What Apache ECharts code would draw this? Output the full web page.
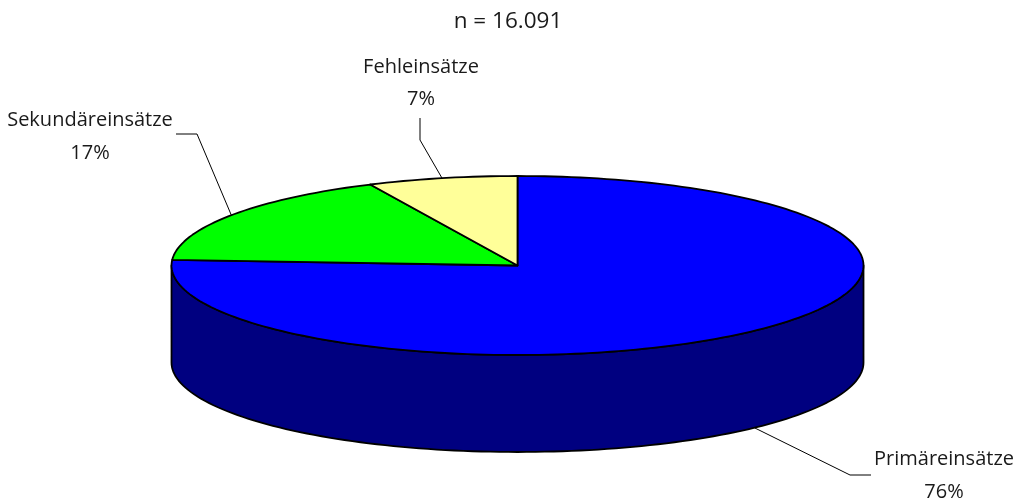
<!DOCTYPE html>
<html>
<head>
<meta charset="utf-8">
<style>html,body{margin:0;padding:0;background:#fff}#c{width:1015px;height:504px}</style>
<script src="https://cdn.jsdelivr.net/npm/echarts@6/dist/echarts.min.js"></script>
</head>
<body>
<div id="c"></div>
<script>
const categories = ['Primäreinsätze', 'Sekundäreinsätze', 'Fehleinsätze'];
const percentages = [76, 17, 7];
const subtitleText = 'n = 16.091';

const topColors = ['#0000ff', '#00ff00', '#ffff99'];
const wallColors = ['#000080', '#008000', '#808040'];
const elbows = [[850, 475, 871, 475], [197, 134, 176, 134], [420, 140, 420, 118]];
const labelPos = [[944, 459, 492], [90, 120, 153], [421, 67, 99]];
const CX = 517.5, CY = 265.5, RX = 346, RY = 89.5, DEPTH = 97;
const FONT = '20px "Open Sans", "Noto Sans", sans-serif';

const total = percentages.reduce((a, b) => a + b, 0);
function range(i) {
  let s = 0;
  for (let k = 0; k < i; k++) s += percentages[k];
  return [s / total * 360, (s + percentages[i]) / total * 360];
}
function pt(deg, dy) {
  const t = deg * Math.PI / 180;
  return [CX + RX * Math.sin(t), CY - RY * Math.cos(t) + (dy || 0)];
}
function arc(a, b) {
  const pts = [], n = Math.max(2, Math.ceil(Math.abs(b - a) / 1.5));
  for (let i = 0; i <= n; i++) pts.push(a + (b - a) * i / n);
  return pts;
}
const edge = { stroke: '#000', lineWidth: 1.8, lineJoin: 'round' };

const option = {
  animation: false,
  backgroundColor: '#fff',
  title: {
    text: subtitleText, left: 503, top: 5, textAlign: 'center',
    textStyle: { fontFamily: '"Open Sans", "Noto Sans", sans-serif', fontSize: 22.5, fontWeight: 'normal', color: '#1a1a1a' }
  },
  series: [
    {
      type: 'custom', coordinateSystem: 'none', z: 1, silent: true,
      data: percentages,
      renderItem(params) {
        const [a, b] = range(params.dataIndex);
        const lo = Math.max(a, 90), hi = Math.min(b, 270);
        if (hi <= lo) return { type: 'group', children: [] };
        const angles = arc(lo, hi);
        const pts = angles.map(d => pt(d, 0)).concat(angles.slice().reverse().map(d => pt(d, DEPTH)));
        return {
          type: 'polygon', shape: { points: pts },
          style: Object.assign({ fill: wallColors[params.dataIndex] }, edge)
        };
      }
    },
    {
      type: 'custom', coordinateSystem: 'none', z: 2, silent: true,
      data: percentages,
      renderItem(params) {
        const [a, b] = range(params.dataIndex);
        const pts = [[CX, CY]].concat(arc(a, b).map(d => pt(d, 0)));
        return {
          type: 'polygon', shape: { points: pts },
          style: Object.assign({ fill: topColors[params.dataIndex] }, edge)
        };
      }
    },
    {
      type: 'custom', coordinateSystem: 'none', z: 3, silent: true,
      data: percentages,
      renderItem(params, api) {
        const i = params.dataIndex;
        const [a, b] = range(i);
        const mid = (a + b) / 2;
        const front = mid > 90 && mid < 270;
        const p = pt(mid, front ? DEPTH : 0);
        const e = elbows[i], l = labelPos[i];
        const txt = (t, y) => ({
          type: 'text',
          style: { x: l[0], y, text: t, font: FONT, fill: '#1a1a1a', align: 'center', verticalAlign: 'middle' }
        });
        return {
          type: 'group',
          children: [
            { type: 'polyline', shape: { points: [p, [e[0], e[1]], [e[2], e[3]]] }, style: { stroke: '#000', lineWidth: 1, fill: null } },
            txt(categories[i], l[1]),
            txt(api.value(0) + '%', l[2])
          ]
        };
      }
    }
  ]
};
echarts.init(document.getElementById('c'), null, { renderer: 'canvas' }).setOption(option);
</script>
</body>
</html>
